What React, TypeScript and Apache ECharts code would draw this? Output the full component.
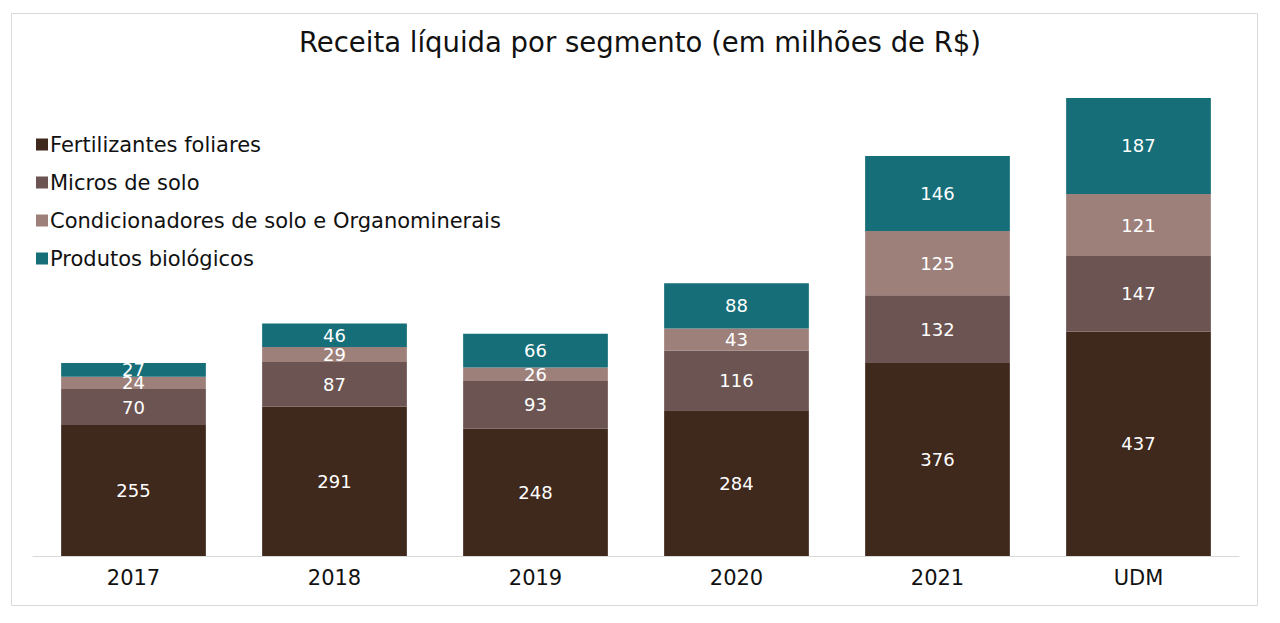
import React, { useEffect, useRef } from "react";
import * as echarts from "echarts";

const categories = ["2017", "2018", "2019", "2020", "2021", "UDM"];
const fertilizantes = [255, 291, 248, 284, 376, 437];
const micros = [70, 87, 93, 116, 132, 147];
const condicionadores = [24, 29, 26, 43, 125, 121];
const biologicos = [27, 46, 66, 88, 146, 187];

const seriesNames = [
  "Fertilizantes foliares",
  "Micros de solo",
  "Condicionadores de solo e Organominerais",
  "Produtos biológicos",
];
const colors = ["#3F281C", "#6B5452", "#9E807B", "#156E78"];
const FONT = "'DejaVu Sans', sans-serif";

export default function App() {
  const ref = useRef<HTMLDivElement>(null);
  useEffect(() => {
    if (!ref.current) return;
    const chart = echarts.init(ref.current, undefined, { renderer: "svg" });
    const data = [fertilizantes, micros, condicionadores, biologicos];
    chart.setOption({
      animation: false,
      backgroundColor: "#ffffff",
      textStyle: { fontFamily: FONT },
      title: {
        text: "Receita líquida por segmento (em milhões de R$)",
        left: "center",
        top: 23,
        textStyle: { fontFamily: FONT, fontSize: 27.5, fontWeight: "normal", color: "#111" },
      },
      legend: {
        orient: "vertical",
        left: 31,
        top: 129,
        itemWidth: 12,
        itemHeight: 12,
        itemGap: 17,
        icon: "rect",
        textStyle: { fontFamily: FONT, fontSize: 21, color: "#111", padding: [0, 0, 0, -3] },
        data: seriesNames,
      },
      grid: { left: 33, right: 41, top: 42.5, bottom: 67, containLabel: false },
      xAxis: {
        type: "category",
        data: categories,
        axisLine: { lineStyle: { color: "#d9d9d9", width: 1 } },
        axisTick: { show: false },
        axisLabel: { fontFamily: FONT, fontSize: 21, color: "#111", margin: 11 },
      },
      yAxis: { type: "value", min: 0, max: 1000, show: false, splitLine: { show: false } },
      graphic: [
        {
          type: "rect",
          shape: { x: 11.5, y: 13.5, width: 1246, height: 592 },
          style: { fill: "none", stroke: "#d9d9d9", lineWidth: 1 },
          silent: true,
        },
      ],
      series: seriesNames.map((name, i) => ({
        name,
        type: "bar",
        stack: "total",
        data: data[i],
        barCategoryGap: "28%",
        itemStyle: { color: colors[i] },
        label: {
          show: true,
          position: "inside",
          color: "#ffffff",
          fontFamily: FONT,
          fontSize: 18,
        },
      })),
    });
    return () => chart.dispose();
  }, []);
  return (
    <div
      ref={ref}
      style={{ position: "fixed", left: 0, top: 0, width: 1280, height: 623 }}
    />
  );
}
